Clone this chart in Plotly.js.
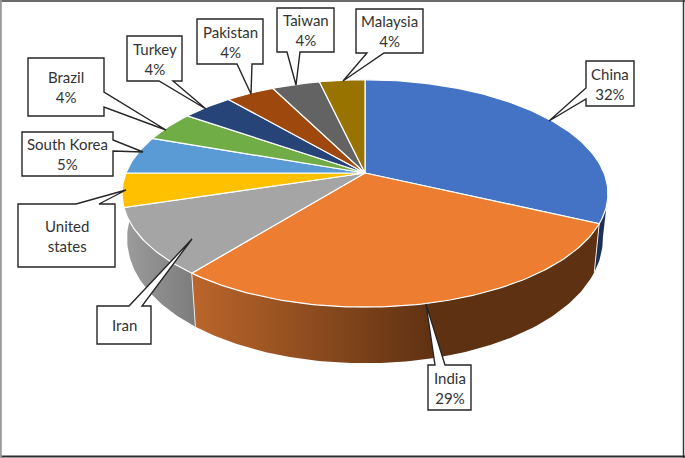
<!DOCTYPE html>
<html>
<head>
<meta charset="utf-8">
<script src="https://cdn.plot.ly/plotly-3.0.1.min.js"></script>
<style>html,body{margin:0;padding:0;background:#fff}#c{width:685px;height:458px}</style>
</head>
<body>
<div id="c"></div>
<script>
// Data
const countries = ['China','India','Iran','United states','South Korea','Brazil','Turkey','Pakistan','Taiwan','Malaysia'];
const shares    = [32, 28.7, 9.5, 4.8, 5.4, 4.3, 4.05, 3.85, 3.8, 3.6];
const labelTexts = ['China<br>32%','India<br>29%','Iran','United<br>states','South Korea<br>5%','Brazil<br>4%','Turkey<br>4%','Pakistan<br>4%','Taiwan<br>4%','Malaysia<br>4%'];
const topColors = ['#4472C4','#ED7D31','#A5A5A5','#FFC000','#5B9BD5','#70AD47','#264478','#9E480E','#636363','#997300'];

// Callout outlines (box with pointer), one per label, page pixels
const calloutOutlines = [
  [[586,61],[634,61],[634,106],[586,106],[586,99],[549,121],[586,88]],
  [[428,365],[435,365],[426,304],[445,365],[471,365],[471,410],[428,410]],
  [[97,306],[129,306],[192,239],[142,306],[151,306],[151,344],[97,344]],
  [[18,204],[76,204],[126,190],[99,204],[115,204],[115,267],[18,267]],
  [[22,132],[113,132],[113,140],[143,152],[113,151],[113,176],[22,176]],
  [[28,58],[104,58],[104,92],[166,130],[104,107],[104,116],[28,116]],
  [[127,36],[182,36],[182,81],[173,81],[206,109],[159,81],[127,81]],
  [[197,19],[263,19],[263,64],[252,64],[251,94],[237,64],[197,64]],
  [[277,8],[334,8],[334,52],[300,52],[296,85],[287,52],[277,52]],
  [[356,9],[423,9],[423,53],[384,53],[343,81],[367,53],[356,53]]
];

// Projection of the tilted disc onto the page
const CX = 365, TOP_Y = 173, TOP_A = 110, TOP_B = 239, K = 0.18;
const BOT_Y = 215, BOT_A = 126, BOT_B = 234, K2 = 0.15;
const rad = d => d * Math.PI / 180;
function topPt(d){ const u=Math.sin(rad(d)), v=Math.cos(rad(d)), w=1+K*v;
  return [CX+TOP_B*u/w, TOP_Y-TOP_A*v/w]; }
function botPt(d){ const u=Math.sin(rad(d)), v=Math.cos(rad(d));
  return [CX+BOT_B*u/(1+K*v), BOT_Y-BOT_A*v/(1+K2*v)]; }
function arc(f,a,b){ const pts=[], n=Math.max(2,Math.ceil(Math.abs(b-a))); 
  for(let i=0;i<=n;i++) pts.push(f(a+(b-a)*i/n)); return pts; }

const total = shares.reduce((a,b)=>a+b,0);
const edges = [0]; shares.forEach(s=>edges.push(edges[edges.length-1]+s/total*360));

function poly(pts,extra){ return Object.assign({
  type:'scatter',mode:'lines',x:pts.map(p=>p[0]),y:pts.map(p=>p[1]),fill:'toself',
  hoverinfo:'skip',showlegend:false,line:{width:0}},extra); }

const traces = [];
// China wall sliver
traces.push(poly(arc(topPt,100,edges[1]).concat(arc(botPt,edges[1],100)),{fillcolor:'#1B2F58',line:{width:0,color:'#1B2F58'}}));
// India wall
traces.push(poly(arc(topPt,edges[1],edges[2]).concat(arc(botPt,edges[2],edges[1])),{
  fillcolor:'#5E3112',
  fillgradient:{type:'horizontal',start:190,stop:600,colorscale:[[0,'#BC662B'],[0.6,'#5E3112'],[1,'#5E3112']]}}));
// Iran wall
traces.push(poly(arc(topPt,edges[2],edges[3]).concat(arc(botPt,280,edges[2])),{
  fillcolor:'#8A8A8A',
  fillgradient:{type:'horizontal',start:125,stop:195,colorscale:[[0,'#9C9C9C'],[1,'#7C7C7C']]}}));
// Pale seams on the wall
[edges[1],edges[2]].forEach(d=>{ const a=topPt(d), b=botPt(d);
  traces.push({type:'scatter',mode:'lines',x:[a[0],b[0]],y:[a[1],b[1]],hoverinfo:'skip',showlegend:false,line:{color:'#E8E8E8',width:1}}); });
// Top faces
countries.forEach((c,i)=>{
  const pts=[[CX,TOP_Y]].concat(arc(topPt,edges[i],edges[i+1])); pts.push([CX,TOP_Y]);
  traces.push(poly(pts,{name:c,fillcolor:topColors[i],line:{color:'#FFFFFF',width:1.2}}));
});

const shapes = calloutOutlines.map(o=>({
  type:'path',xref:'x',yref:'y',layer:'above',
  path:'M'+o.map(p=>p[0]+','+p[1]).join('L')+'Z',
  fillcolor:'#FFFFFF',line:{color:'#262626',width:1.4}}));
// Picture frame: dark top, right and bottom, grey left
[[0,1,685,1,'#3A3A3A',1.5],[683.5,0,683.5,458,'#3A3A3A',1.5],[0,456.5,685,456.5,'#2E2E2E',2],[0.8,0,0.8,458,'#9A9A9A',2]]
  .forEach(f=>shapes.push({type:'line',xref:'x',yref:'y',x0:f[0],y0:f[1],x1:f[2],y1:f[3],layer:'above',line:{color:f[4],width:f[5]}}));

function boxCentre(o){
  // the box is the outline's bounding box, less the pointer tip
  const xs=o.map(p=>p[0]), ys=o.map(p=>p[1]);
  const rect=o.filter(p=>xs.filter(x=>x===p[0]).length>1 && ys.filter(y=>y===p[1]).length>1);
  const rx=rect.map(p=>p[0]), ry=rect.map(p=>p[1]);
  return [(Math.min(...rx)+Math.max(...rx))/2,(Math.min(...ry)+Math.max(...ry))/2];
}
const annotations = labelTexts.map((t,i)=>{ const c=boxCentre(calloutOutlines[i]);
  return {x:c[0],y:c[1],xref:'x',yref:'y',text:t,showarrow:false,align:'center',xanchor:'center',yanchor:'middle',
    font:{family:'Lato, "Open Sans", sans-serif',size:15,color:'#333333'}}; });

Plotly.newPlot('c',traces,{
  width:685,height:458,margin:{l:0,r:0,t:0,b:0,pad:0},
  paper_bgcolor:'#FFFFFF',plot_bgcolor:'#FFFFFF',showlegend:false,
  xaxis:{range:[0,685],visible:false,fixedrange:true},
  yaxis:{range:[458,0],visible:false,fixedrange:true},
  shapes:shapes,annotations:annotations
},{displayModeBar:false,staticPlot:true});
</script>
</body>
</html>
